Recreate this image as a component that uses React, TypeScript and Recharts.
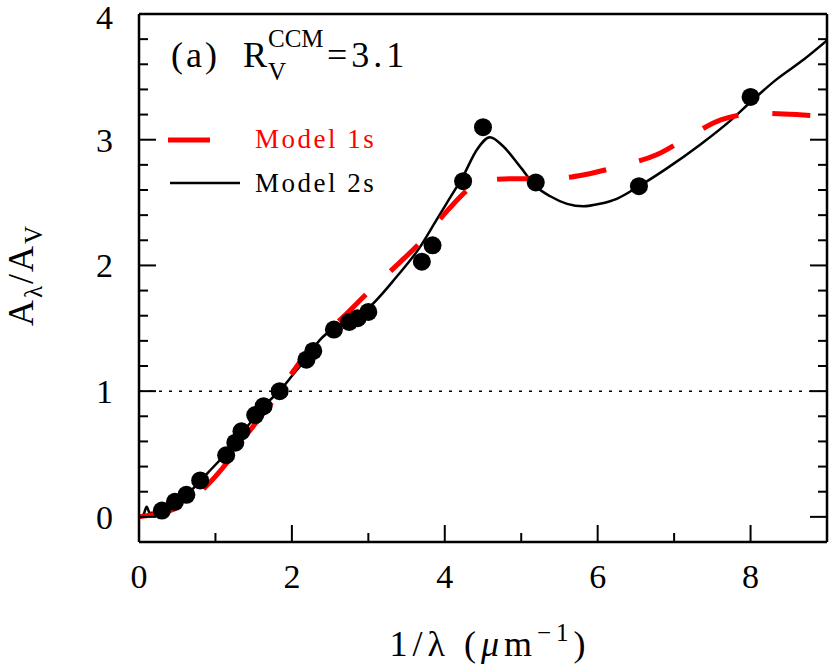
import {
  ComposedChart,
  Line,
  Scatter,
  XAxis,
  YAxis,
  ReferenceLine,
  Customized,
} from 'recharts';

// observed extinction points (1/lambda, A_lambda/A_V)
const obsX = [0.3, 0.47, 0.62, 0.8, 1.14, 1.26, 1.34, 1.52, 1.63, 1.84, 2.19, 2.28, 2.55, 2.75, 2.86, 3.0, 3.7, 3.84, 4.24, 4.5, 5.19, 6.54, 8.0];
const obsY = [0.05, 0.12, 0.175, 0.29, 0.49, 0.59, 0.68, 0.81, 0.88, 1.0, 1.25, 1.32, 1.49, 1.55, 1.58, 1.63, 2.03, 2.16, 2.67, 3.1, 2.66, 2.63, 3.34];

// Model 1s (red dashed)
const m1X = [0, 0.2, 0.43, 0.82, 1.15, 1.43, 1.75, 2.02, 2.28, 2.67, 3.02, 3.37, 3.74, 4.04, 4.42, 4.6, 4.85, 5.38, 5.81, 6.29, 6.77, 7.21, 7.62, 8.12, 8.6, 9.0];
const m1Y = [0, 0.02, 0.055, 0.21, 0.43, 0.67, 0.92, 1.16, 1.37, 1.59, 1.8, 2.0, 2.22, 2.44, 2.65, 2.68, 2.69, 2.69, 2.72, 2.79, 2.88, 3.03, 3.16, 3.21, 3.2, 3.18];

// Model 2s (black solid)
const m2X = [0, 0.06, 0.1, 0.14, 0.3, 0.5, 0.7, 0.9, 1.1, 1.3, 1.5, 1.7, 1.85, 2.0, 2.2, 2.37, 2.6, 2.98, 3.37, 3.68, 3.89, 4.03, 4.24, 4.42, 4.59, 4.76, 4.98, 5.19, 5.38, 5.6, 5.81, 6.03, 6.25, 6.54, 6.9, 7.34, 7.77, 8.0, 8.34, 8.7, 9.0];
const m2Y = [0, 0.02, 0.08, 0.03, 0.05, 0.12, 0.22, 0.35, 0.48, 0.63, 0.78, 0.92, 1.01, 1.12, 1.27, 1.41, 1.52, 1.65, 1.91, 2.15, 2.36, 2.5, 2.71, 2.92, 3.02, 2.95, 2.79, 2.63, 2.55, 2.49, 2.47, 2.49, 2.53, 2.63, 2.77, 2.96, 3.17, 3.3, 3.48, 3.64, 3.79];

const xTicks = [0, 1, 2, 3, 4, 5, 6, 7, 8, 9];
const yTicks = [0, 0.2, 0.4, 0.6, 0.8, 1, 1.2, 1.4, 1.6, 1.8, 2, 2.2, 2.4, 2.6, 2.8, 3, 3.2, 3.4, 3.6, 3.8, 4];

const obs = obsX.map((x, i) => ({ x, y: obsY[i] }));
const model1 = m1X.map((x, i) => ({ x, y: m1Y[i] }));
const model2 = m2X.map((x, i) => ({ x, y: m2Y[i] }));

const FONT = '"Liberation Serif", serif';
const isMajorY = (v: number) => Math.abs(v - Math.round(v)) < 1e-6;

const BottomTick = (p: any) => {
  const v = p.payload.value;
  const major = v % 2 === 0;
  return (
    <g>
      <line x1={p.x} x2={p.x} y1={p.y} y2={p.y - (major ? 17 : 9)} stroke="#000" strokeWidth={2} />
      {major && (
        <text x={p.x} y={p.y + 46} textAnchor="middle" fontSize={34} fontFamily={FONT} fill="#000">
          {v}
        </text>
      )}
    </g>
  );
};

const TopTick = (p: any) => {
  const major = p.payload.value % 2 === 0;
  return <line x1={p.x} x2={p.x} y1={p.y} y2={p.y + (major ? 17 : 9)} stroke="#000" strokeWidth={2} />;
};

const LeftTick = (p: any) => {
  const v = p.payload.value;
  const major = isMajorY(v);
  return (
    <g>
      <line x1={p.x} x2={p.x + (major ? 17 : 9)} y1={p.y} y2={p.y} stroke="#000" strokeWidth={2} />
      {major && (
        <text x={p.x - 26} y={Math.max(p.y + 12, 29)} textAnchor="end" fontSize={34} fontFamily={FONT} fill="#000">
          {Math.round(v)}
        </text>
      )}
    </g>
  );
};

const RightTick = (p: any) => {
  const major = isMajorY(p.payload.value);
  return <line x1={p.x} x2={p.x - (major ? 17 : 9)} y1={p.y} y2={p.y} stroke="#000" strokeWidth={2} />;
};

const Overlay = () => (
  <g fontFamily={FONT} fill="#000">
    {/* panel title */}
    <text x={171} y={67} fontSize={36} letterSpacing={3}>(a)</text>
    <text x={243} y={67} fontSize={36}>R</text>
    <text x={268} y={80} fontSize={25}>V</text>
    <text x={268} y={47} fontSize={25}>CCM</text>
    <text x={327} y={67} fontSize={36} letterSpacing={4}>=3.1</text>
    {/* legend */}
    <line x1={168} x2={210} y1={140} y2={140} stroke="#ff0000" strokeWidth={5} />
    <text x={255} y={148} fontSize={27} fill="#ff0000" letterSpacing={2.5}>Model 1s</text>
    <line x1={170} x2={240} y1={183} y2={183} stroke="#000" strokeWidth={2.5} />
    <text x={255} y={192} fontSize={27} letterSpacing={2.5}>Model 2s</text>
    {/* axis titles */}
    <text x={490} y={656} fontSize={36} textAnchor="middle" letterSpacing={5}>
      1/λ (<tspan fontStyle="italic">μ</tspan>m<tspan dy={-15} fontSize={25}>−1</tspan><tspan dy={15}>)</tspan>
    </text>
    <text transform="translate(33,275) rotate(-90)" fontSize={36} textAnchor="middle" letterSpacing={2}>
      A<tspan dy={9} fontSize={25}>λ</tspan><tspan dy={-9}>/A</tspan><tspan dy={9} fontSize={25}>V</tspan>
    </text>
  </g>
);

export default function App() {
  return (
    <div style={{ position: 'absolute', left: 0, top: 0, width: 830, height: 670, background: '#fff' }}>
      <ComposedChart width={830} height={670} margin={{ top: 0, right: 0, bottom: 0, left: 0 }}>
        <XAxis
          xAxisId="b"
          type="number"
          dataKey="x"
          domain={[0, 9]}
          ticks={xTicks}
          interval={0}
          height={128}
          tickSize={0}
          tickMargin={0}
          tick={BottomTick}
          axisLine={{ stroke: '#000', strokeWidth: 2.5 }}
          tickLine={false}
          allowDataOverflow
        />
        <XAxis
          xAxisId="t"
          orientation="top"
          type="number"
          domain={[0, 9]}
          ticks={xTicks}
          interval={0}
          height={14}
          tickSize={0}
          tickMargin={0}
          tick={TopTick}
          axisLine={{ stroke: '#000', strokeWidth: 2.5 }}
          tickLine={false}
          allowDataOverflow
        />
        <YAxis
          yAxisId="l"
          type="number"
          domain={[-0.2, 4]}
          ticks={yTicks}
          interval={0}
          width={139}
          tickSize={0}
          tickMargin={0}
          tick={LeftTick}
          axisLine={{ stroke: '#000', strokeWidth: 2.5 }}
          tickLine={false}
          allowDataOverflow
        />
        <YAxis
          yAxisId="r"
          orientation="right"
          type="number"
          domain={[-0.2, 4]}
          ticks={yTicks}
          interval={0}
          width={3}
          tickSize={0}
          tickMargin={0}
          tick={RightTick}
          axisLine={{ stroke: '#000', strokeWidth: 2.5 }}
          tickLine={false}
          allowDataOverflow
        />
        <ReferenceLine xAxisId="b" yAxisId="l" y={1} stroke="#000" strokeWidth={1.5} strokeDasharray="3 7" />
        <Scatter
          xAxisId="b"
          yAxisId="l"
          data={obs}
          dataKey="y"
          isAnimationActive={false}
          shape={(p: any) => <circle cx={p.cx} cy={p.cy} r={9} fill="#000" />}
        />
        <Line
          xAxisId="b"
          yAxisId="l"
          data={model2}
          dataKey="y"
          type="monotone"
          stroke="#000"
          strokeWidth={2.5}
          dot={false}
          activeDot={false}
          isAnimationActive={false}
        />
        <Line
          xAxisId="b"
          yAxisId="l"
          data={model1}
          dataKey="y"
          type="monotone"
          stroke="#ff0000"
          strokeWidth={5}
          strokeDasharray="38 34"
          dot={false}
          activeDot={false}
          isAnimationActive={false}
        />
        <Customized component={Overlay} />
      </ComposedChart>
    </div>
  );
}
